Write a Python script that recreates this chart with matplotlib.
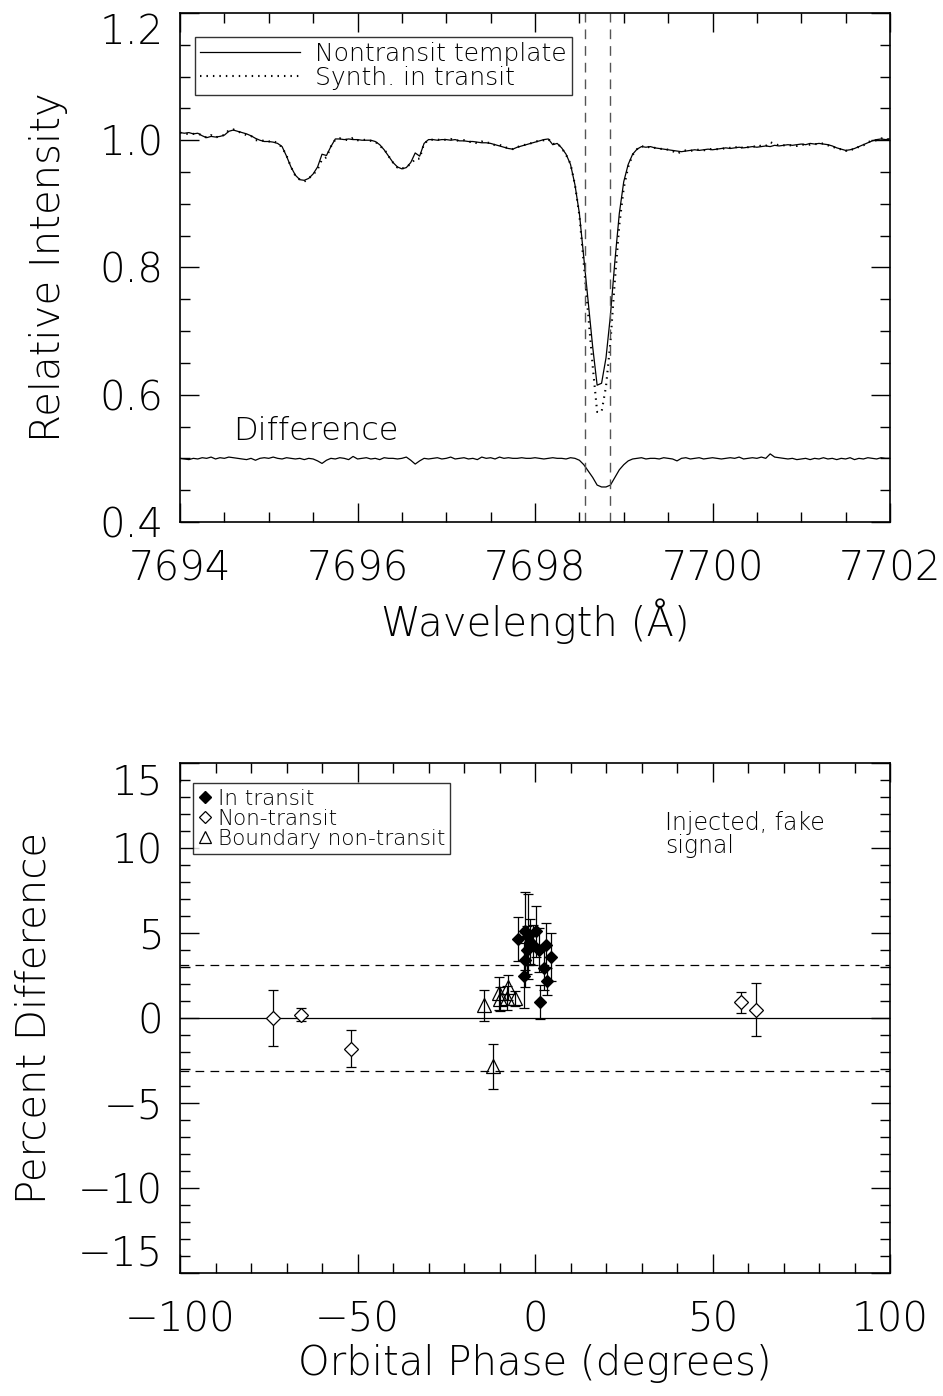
import numpy as np
import matplotlib
matplotlib.use('Agg')
import matplotlib.pyplot as plt
from matplotlib.ticker import MultipleLocator

# thin IDL-ish look
plt.rcParams['font.family'] = ['DejaVu Sans']
plt.rcParams['font.weight'] = 200
plt.rcParams['axes.labelweight'] = 200
plt.rcParams['axes.linewidth'] = 1.2

# ---- top panel data: spectrum sampled every 0.05 A from 7694.00 to 7702.00 ----
wave_start, wave_end = 7694.0, 7702.0
template = [
    1.012, 1.011, 1.012, 1.010, 1.011, 1.007, 1.004, 1.006, 1.005, 1.006,
    1.008, 1.014, 1.016, 1.014, 1.012, 1.010, 1.007, 1.003, 1.000, 0.998,
    0.998, 0.997, 0.995, 0.990, 0.975, 0.958, 0.945, 0.938, 0.937, 0.940,
    0.947, 0.958, 0.978, 0.976, 0.990, 1.002, 1.002, 1.001, 1.002, 1.001,
    1.001, 1.000, 1.000, 1.000, 0.998, 0.993, 0.985, 0.975, 0.965, 0.958,
    0.955, 0.957, 0.965, 0.980, 0.975, 0.995, 1.001, 1.001, 1.000, 1.001,
    1.001, 1.000, 1.001, 0.999, 0.999, 0.998, 0.998, 0.997, 0.996, 0.996,
    0.995, 0.993, 0.991, 0.989, 0.987, 0.986, 0.989, 0.991, 0.993, 0.995,
    0.997, 0.999, 1.001, 1.002, 0.993, 0.995, 0.988, 0.978, 0.962, 0.930,
    0.885, 0.815, 0.745, 0.675, 0.615, 0.618, 0.658, 0.725, 0.810, 0.885,
    0.935, 0.962, 0.978, 0.986, 0.990, 0.989, 0.990, 0.988, 0.987, 0.986,
    0.985, 0.984, 0.983, 0.982, 0.983, 0.984, 0.985, 0.984, 0.985, 0.986,
    0.985, 0.986, 0.987, 0.988, 0.987, 0.988, 0.989, 0.988, 0.989, 0.990,
    0.989, 0.990, 0.991, 0.990, 0.992, 0.991, 0.992, 0.993, 0.992, 0.993,
    0.994, 0.993, 0.995, 0.994, 0.995, 0.994, 0.993, 0.991, 0.988, 0.986,
    0.984, 0.985, 0.987, 0.990, 0.993, 0.996, 0.999, 1.001, 1.002, 1.001,
    1.002,
]
# difference curve (synth - template, shifted to 0.5)
difference = [
    0.500, 0.499, 0.498, 0.500, 0.499, 0.501, 0.500, 0.502, 0.499, 0.501,
    0.500, 0.502, 0.501, 0.500, 0.499, 0.498, 0.500, 0.497, 0.500, 0.501,
    0.500, 0.502, 0.500, 0.499, 0.501, 0.500, 0.499, 0.500, 0.498, 0.500,
    0.499, 0.496, 0.492, 0.497, 0.500, 0.499, 0.501, 0.500, 0.498, 0.503,
    0.499, 0.500, 0.501, 0.499, 0.500, 0.498, 0.501, 0.500, 0.500, 0.499,
    0.500, 0.502, 0.497, 0.491, 0.496, 0.500, 0.499, 0.500, 0.501, 0.499,
    0.500, 0.502, 0.499, 0.500, 0.501, 0.499, 0.500, 0.498, 0.502, 0.500,
    0.501, 0.499, 0.502, 0.500, 0.501, 0.500, 0.500, 0.501, 0.500, 0.500,
    0.501, 0.500, 0.499, 0.500, 0.501, 0.500, 0.500, 0.499, 0.501, 0.500,
    0.497, 0.490, 0.480, 0.470, 0.458, 0.455, 0.455, 0.458, 0.470, 0.482,
    0.490, 0.496, 0.499, 0.500, 0.501, 0.499, 0.500, 0.500, 0.499, 0.501,
    0.500, 0.499, 0.496, 0.500, 0.501, 0.499, 0.500, 0.501, 0.499, 0.500,
    0.501, 0.500, 0.499, 0.500, 0.501, 0.500, 0.502, 0.499, 0.500, 0.501,
    0.500, 0.502, 0.500, 0.507, 0.502, 0.501, 0.500, 0.499, 0.500, 0.498,
    0.499, 0.500, 0.498, 0.500, 0.499, 0.501, 0.499, 0.500, 0.498, 0.500,
    0.499, 0.501, 0.498, 0.500, 0.499, 0.501, 0.500, 0.499, 0.501, 0.500,
    0.500,
]
window_edges = [7698.56, 7698.85]

# ---- bottom panel data: (phase deg, percent difference, error) ----
in_phase = [-4.7, -3.1, -2.8, -2.8, -2.3, -1.9, -1.4, -0.5, 0.3, 1.0, 1.4, 2.4, 3.1, 3.5, 4.5]
in_pct = [4.65, 2.5, 5.1, 3.4, 4.0, 4.8, 4.5, 4.3, 5.1, 4.0, 0.95, 2.95, 4.3, 2.15, 3.6]
in_err = [1.3, 1.9, 2.3, 1.6, 1.4, 2.5, 1.3, 1.2, 1.5, 1.3, 1.0, 1.3, 1.3, 0.8, 1.4]

non_phase = [-73.8, -65.9, -51.9, 58.0, 62.2]
non_pct = [0.0, 0.2, -1.8, 0.92, 0.5]
non_err = [1.65, 0.4, 1.1, 0.6, 1.55]

bnd_phase = [-14.4, -11.7, -10.1, -9.9, -7.6, -7.9, -5.6]
bnd_pct = [0.75, -2.85, 1.45, 1.1, 1.8, 1.2, 1.15]
bnd_err = [0.9, 1.3, 0.95, 0.7, 0.75, 0.7, 0.45]

threshold = 3.1

fig = plt.figure(figsize=(9.43, 13.96), dpi=100)
ax1 = fig.add_axes([0.1909, 0.6261, 0.7529, 0.3646])
ax2 = fig.add_axes([0.1909, 0.0881, 0.7529, 0.3653])

TICK_FS = 29
LABEL_FS = 29


def idl_axes(ax):
    ax.tick_params(which='both', direction='in', top=True, right=True,
                   labelsize=TICK_FS, width=1.0)
    ax.tick_params(which='major', length=14)
    ax.tick_params(which='minor', length=7)
    ax.tick_params(axis='x', pad=20)
    ax.tick_params(axis='y', pad=12)


# ---------------- top panel ----------------
template = np.array(template)
difference = np.array(difference)
wave = np.linspace(wave_start, wave_end, len(template))
synth = template + (difference - 0.5)

ax1.plot(wave, template, color='black', lw=0.9, label='Nontransit template')
ax1.plot(wave, synth, color='black', lw=1.5, linestyle=(0, (0.7, 2.4)),
         label='Synth. in transit')
ax1.plot(wave, difference, color='black', lw=0.9)
for w in window_edges:
    ax1.axvline(w, color='#555555', lw=1.0, linestyle=(0, (7, 5)))
ax1.text(7694.6, 0.529, 'Difference', fontsize=23)

ax1.set_xlim(7694, 7702)
ax1.set_ylim(0.4, 1.2)
ax1.xaxis.set_minor_locator(MultipleLocator(0.5))
ax1.yaxis.set_minor_locator(MultipleLocator(0.05))
ax1.set_xticks([7694, 7696, 7698, 7700, 7702])
ax1.set_xticklabels(['7694', '7696', '7698', '7700', '7702'])
ax1.set_yticks([0.4, 0.6, 0.8, 1.0, 1.2])
ax1.set_yticklabels(['0.4', '0.6', '0.8', '1.0', '1.2'])
idl_axes(ax1)
ax1.set_xlabel('Wavelength (Å)', fontsize=LABEL_FS)
ax1.set_ylabel('Relative Intensity', fontsize=LABEL_FS)
ax1.xaxis.set_label_coords(0.5, -0.15)
ax1.yaxis.set_label_coords(-0.158, 0.5)
ax1.xaxis.label.set_va('top')

leg1 = ax1.legend(loc='upper left', bbox_to_anchor=(0.021, 0.953), fontsize=18,
                  handlelength=4.0, frameon=True, fancybox=False, borderpad=0.2,
                  labelspacing=0.0, handletextpad=0.6, borderaxespad=0)
leg1.get_frame().set_edgecolor('black')
leg1.get_frame().set_linewidth(1.0)

# ---------------- bottom panel ----------------
ax2.axhline(0, color='black', lw=0.9)
ax2.axhline(threshold, color='black', lw=0.9, linestyle=(0, (7, 5)))
ax2.axhline(-threshold, color='black', lw=0.9, linestyle=(0, (7, 5)))

eb_kw = dict(ecolor='black', elinewidth=0.9, capsize=3.5, capthick=0.9, linestyle='none')
ax2.errorbar(non_phase, non_pct, yerr=non_err, marker='D', markersize=7,
             markerfacecolor='white', markeredgecolor='black', markeredgewidth=0.9, **eb_kw)
ax2.errorbar(bnd_phase, bnd_pct, yerr=bnd_err, marker='^', markersize=10,
             markerfacecolor='none', markeredgecolor='black', markeredgewidth=0.9, **eb_kw)
ax2.errorbar(in_phase, in_pct, yerr=in_err, marker='D', markersize=6.5,
             markerfacecolor='black', markeredgecolor='black', markeredgewidth=0.9, **eb_kw)

# legend built from marker-only proxies
h_in = ax2.plot([], [], 'D', color='black', markersize=6.5, label='In transit')[0]
h_non = ax2.plot([], [], 'D', markerfacecolor='white', markeredgecolor='black',
                 markersize=6.5, markeredgewidth=0.9, label='Non-transit')[0]
h_bnd = ax2.plot([], [], '^', markerfacecolor='white', markeredgecolor='black',
                 markersize=9, markeredgewidth=0.9, label='Boundary non-transit')[0]
leg2 = ax2.legend(handles=[h_in, h_non, h_bnd], loc='upper left',
                  bbox_to_anchor=(0.018, 0.96), fontsize=15.5, handlelength=0.6,
                  handletextpad=0.3, frameon=True, fancybox=False, borderpad=0.25,
                  labelspacing=0.0, borderaxespad=0)
leg2.get_frame().set_edgecolor('black')
leg2.get_frame().set_linewidth(1.0)

ax2.text(36.6, 12.2, 'Injected, fake\nsignal', fontsize=17, linespacing=0.95, va='top')

ax2.set_xlim(-100, 100)
ax2.set_ylim(-15, 15)
ax2.set_xticks([-100, -50, 0, 50, 100])
ax2.set_yticks([-15, -10, -5, 0, 5, 10, 15])
ax2.xaxis.set_minor_locator(MultipleLocator(10))
ax2.yaxis.set_minor_locator(MultipleLocator(1))
idl_axes(ax2)
ax2.set_xlabel('Orbital Phase (degrees)', fontsize=LABEL_FS)
ax2.set_ylabel('Percent Difference', fontsize=LABEL_FS)
ax2.xaxis.set_label_coords(0.5, -0.14)
ax2.yaxis.set_label_coords(-0.178, 0.5)
ax2.xaxis.label.set_va('top')

# IDL keeps end labels inside the axis range
ax1.get_yticklabels()[-1].set_va('top')
ax2.get_yticklabels()[0].set_va('bottom')
ax2.get_yticklabels()[-1].set_va('top')

fig.savefig('out.png', dpi=100)
